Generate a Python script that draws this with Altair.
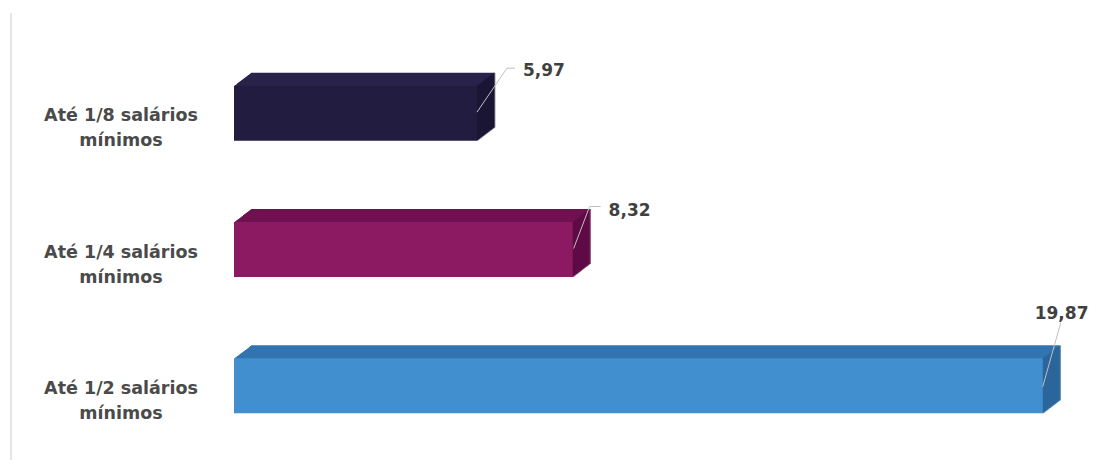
import altair as alt
import pandas as pd

# ---- data ----
categorias = ["Até 1/8 salários\nmínimos", "Até 1/4 salários\nmínimos", "Até 1/2 salários\nmínimos"]
valores = [5.97, 8.32, 19.87]

df = pd.DataFrame({"categoria": categorias, "valor": valores, "ordem": list(range(len(categorias)))})

# ---- styles ----
cor_frente = ["#211c40", "#8b1a62", "#418fcf"]
cor_topo = ["#29234b", "#6f1150", "#3274b0"]
cor_lado = ["#17132f", "#5c0a43", "#2a6497"]
FONT = "DejaVu Sans"

x_scale = alt.Scale(domain=[0, 20], nice=False, zero=True, padding=0)
y_scale = alt.Scale(domain=[-0.5, 2.5], nice=False, zero=False, reverse=True, padding=0)
X = alt.X("valor:Q", scale=x_scale, axis=None)
Y = alt.Y("ordem:Q", scale=y_scale, axis=None)


def cor(rng):
    return alt.Color("categoria:N", scale=alt.Scale(domain=categorias, range=rng), legend=None)


base = alt.Chart(df).transform_calculate(
    rot="replace(format(datum.valor, '.2f'), '.', ',')"
)

layers = []

# left border line
layers.append(
    base.mark_rule(color="#e6e6e6", strokeWidth=2).encode(
        x=alt.value(-223), y=alt.value(-32), y2=alt.value(417)
    )
)

# 3D extrusion (top face)
DX, DY = 17, 13
topo = []
for k in range(1, DX + 1):
    oy = -k * DY / DX
    topo.append(
        base.mark_bar(orient="horizontal", size=55, xOffset=k, x2Offset=k, yOffset=oy, y2Offset=oy).encode(
            x=X, y=Y, color=cor(cor_topo)
        )
    )
layers.append(alt.layer(*topo))
# side face
lado = []
for k in range(0, DX + 1):
    oy = -k * DY / DX
    lado.append(
        base.mark_tick(orient="vertical", size=55, thickness=1.6, xOffset=k + 0.5, yOffset=oy).encode(
            x=X, y=Y, color=cor(cor_lado)
        )
    )
layers.append(alt.layer(*lado))
# front face
layers.append(base.mark_bar(orient="horizontal", size=55).encode(x=X, y=Y, color=cor(cor_frente)))

# leader lines and value labels
rotulos = [
    dict(seg=[(0, -1, 30, -45), (30, -45, 38, -45)], tx=46, ty=-42),
    dict(seg=[(1, -1, 17, -43), (17, -43, 28, -43)], tx=36, ty=-39),
    dict(seg=[(0, 1, 18, -63)], tx=-8, ty=-72),
]
for i, r in enumerate(rotulos):
    sub = base.transform_filter(f"datum.ordem == {i}")
    for (a, b, c, d) in r["seg"]:
        layers.append(
            sub.mark_rule(color="#c0c0c0", strokeWidth=1, xOffset=a, yOffset=b, x2Offset=c, y2Offset=d).encode(
                x=X, x2="valor:Q", y=Y, y2="ordem:Q"
            )
        )
    layers.append(
        sub.mark_text(
            align="left", baseline="middle", xOffset=r["tx"], yOffset=r["ty"],
            font=FONT, fontSize=17, fontWeight="bold", color="#404040"
        ).encode(x=X, y=Y, text="rot:N")
    )

# category labels
layers.append(
    base.mark_text(
        align="center", baseline="middle", lineBreak="\n", lineHeight=25, yOffset=3,
        font=FONT, fontSize=17.5, fontWeight="bold", color="#4a4a4a"
    ).encode(x=alt.value(-113), y=Y, text="categoria:N")
)

chart = alt.layer(*layers).resolve_scale(color="independent").properties(
    width=814, height=409,
    padding={"left": 226, "top": 37, "right": 42, "bottom": 6},
    autosize=alt.AutoSizeParams(type="none"),
    background="white",
).configure_view(stroke=None)

chart.save("out.html", embed_options={"renderer": "svg", "actions": False})
